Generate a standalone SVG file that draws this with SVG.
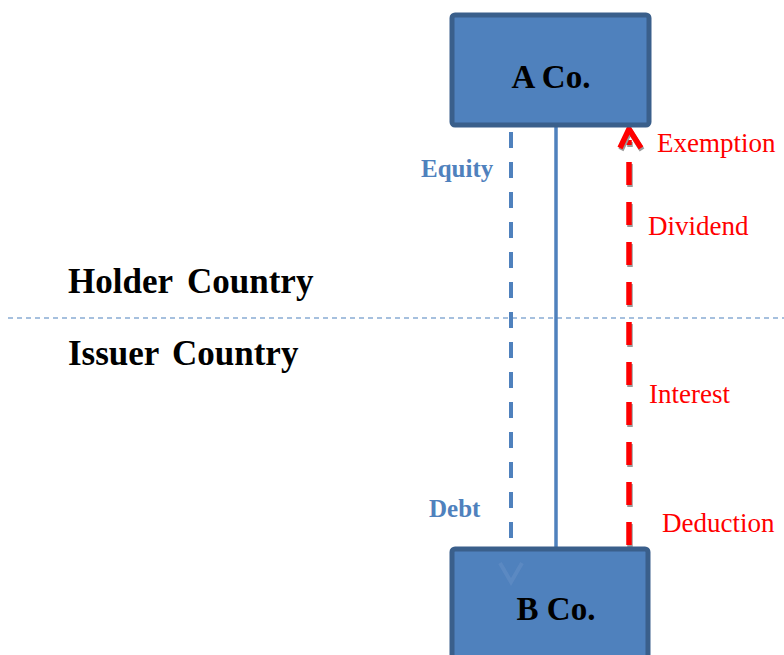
<svg xmlns="http://www.w3.org/2000/svg" width="784" height="655" viewBox="0 0 784 655">
<style>
.box{fill:#4F81BD;stroke:#3A5F8B;stroke-width:5}
.name{font-family:"Liberation Serif",serif;font-weight:bold;font-size:33px;fill:#000;text-anchor:middle}
.region{font-family:"Liberation Serif",serif;font-weight:bold;font-size:35px;fill:#000}
.blab{font-family:"Liberation Serif",serif;font-weight:bold;font-size:25px;fill:#4F81BD}
.rlab{font-family:"Liberation Serif",serif;font-size:27px;fill:#FF0000}
</style>
<rect width="784" height="655" fill="#fff"/>
<line x1="8" y1="318" x2="784" y2="318" stroke="#4F81BD" stroke-width="1.2" stroke-dasharray="5 4"/>
<text class="region" x="68" y="293">Holder <tspan x="187">Country</tspan></text>
<text class="region" x="68" y="365">Issuer <tspan x="172">Country</tspan></text>
<g id="connectors">
<line x1="556" y1="127" x2="556" y2="547" stroke="#4F81BD" stroke-width="3.5"/>
<line x1="511" y1="132" x2="511" y2="547" stroke="#4F81BD" stroke-width="4" stroke-dasharray="16 14"/>
<line x1="630" y1="545" x2="630" y2="140" stroke="#9a9a9a" stroke-width="5.5" stroke-dasharray="23 17" transform="translate(0,2)"/>
<line x1="629" y1="545" x2="629" y2="140" stroke="#FF0000" stroke-width="5.5" stroke-dasharray="23 17"/>
<polyline points="621,150 630,131 642,150" fill="none" stroke="#9a9a9a" stroke-width="5.5"/>
<polyline points="620,148 629,129 641,148" fill="none" stroke="#FF0000" stroke-width="5.5"/>
</g>
<g id="a-co">
<rect class="box" x="452" y="15" width="197" height="110" rx="3"/>
<text class="name" x="551" y="88">A Co.</text>
</g>
<g id="b-co">
<rect class="box" x="452" y="549" width="196" height="120" rx="3"/>
<polyline points="500,563 511,582 522,563" fill="none" stroke="#6A93C8" stroke-width="4" opacity="0.45"/>
<text class="name" x="556" y="620">B Co.</text>
</g>
<g id="labels">
<text class="blab" x="421" y="177">Equity</text>
<text class="blab" x="429" y="517">Debt</text>
<text class="rlab" x="657" y="152">Exemption</text>
<text class="rlab" x="648" y="235">Dividend</text>
<text class="rlab" x="649" y="403">Interest</text>
<text class="rlab" x="662" y="532">Deduction</text>
</g>
</svg>
